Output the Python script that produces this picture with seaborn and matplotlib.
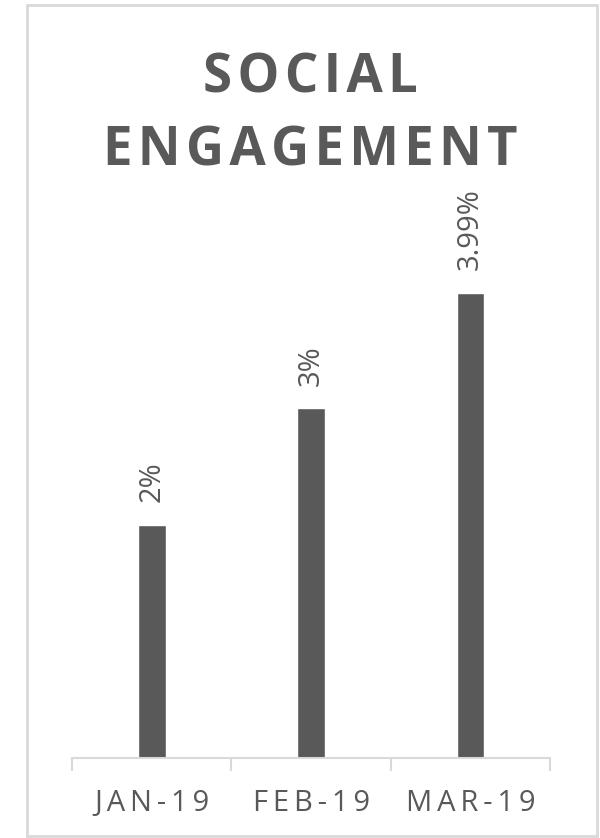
import matplotlib
matplotlib.use("Agg")
import matplotlib.pyplot as plt
import matplotlib.patches as patches
import seaborn as sns
import pandas as pd

# datos
months = ["JAN-19", "FEB-19", "MAR-19"]
engagement = [2.0, 3.0, 3.99]
value_labels = ["2%", "3%", "3.99%"]

grey = "#595959"
light = "#D9D9D9"

sns.set_style("white")
plt.rcParams["font.family"] = ["Open Sans", "DejaVu Sans"]

df = pd.DataFrame({"month": months, "engagement": engagement})

fig = plt.figure(figsize=(6, 8.38), dpi=100)
ax = fig.add_axes([0.12, 0.0955, 0.797, 0.696])

sns.barplot(data=df, x="month", y="engagement", color=grey, saturation=1,
            width=0.175, ax=ax)

ax.set_ylim(0, 5)
ax.set_xlim(-0.5, 2.5)
ax.set_yticks([])
ax.set_xlabel("")
ax.set_ylabel("")
for s in ["top", "right", "left"]:
    ax.spines[s].set_visible(False)
ax.spines["bottom"].set_color(light)
ax.spines["bottom"].set_linewidth(1.5)

# etiquetas con espaciado entre letras
spaced = ["\u2009".join(m) for m in months]
ax.set_xticks(range(len(months)))
ax.set_xticklabels(spaced, fontsize=21, color=grey)
ax.tick_params(axis="x", which="major", bottom=True, length=0, pad=22)
ax.set_xticks([-0.5, 0.5, 1.5, 2.5], minor=True)
ax.tick_params(axis="x", which="minor", bottom=True, length=9.5, width=1.5,
               color=light)

for i, (v, lab) in enumerate(zip(engagement, value_labels)):
    ax.annotate(lab, (i, v), xytext=(0, 16), textcoords="offset points",
                rotation=90, ha="center", va="bottom", fontsize=21, color=grey)

# titulo
fig.text(0.517, 0.906, "\u200a".join("SOCIAL"), ha="center", va="center",
         fontsize=38, fontweight="bold", color=grey)
fig.text(0.517, 0.819, "\u200a".join("ENGAGEMENT"), ha="center", va="center",
         fontsize=38, fontweight="bold", color=grey)

# borde
fig.patches.append(patches.Rectangle((0.045, 0.002), 0.95, 0.992,
                                     transform=fig.transFigure, fill=False,
                                     edgecolor=light, linewidth=2))

plt.savefig("out.png", dpi=100)
